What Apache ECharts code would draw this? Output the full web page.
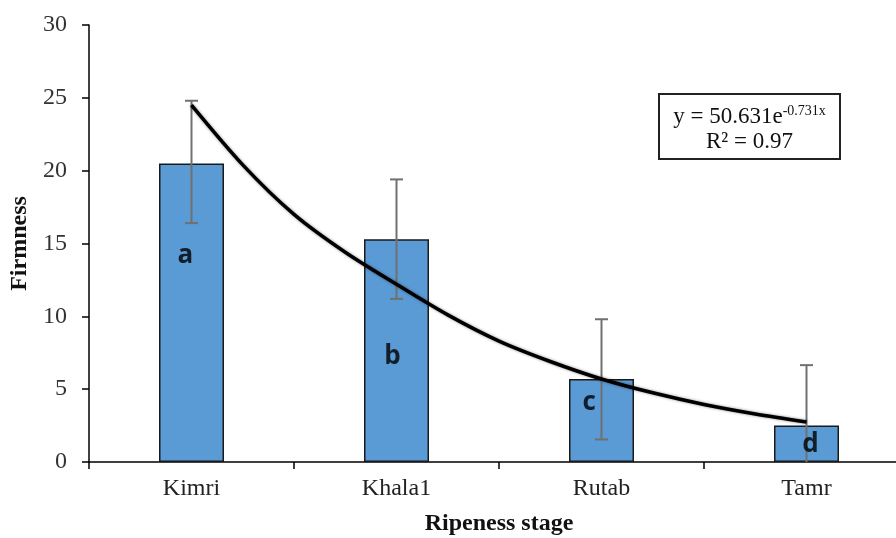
<!DOCTYPE html>
<html>
<head>
<meta charset="utf-8">
<script src="https://cdn.jsdelivr.net/npm/echarts@6/dist/echarts.min.js"></script>
<style>html,body{margin:0;padding:0;background:#fff}#c{width:896px;height:538px}</style>
</head>
<body>
<div id="c"></div>
<script>
// ---- data ----
const categories = ['Kimri', 'Khala1', 'Rutab', 'Tamr'];
const firmness = [20.5, 15.3, 5.7, 2.5];
const errLow = [16.4, 11.2, 1.55, -1.6];
const errHigh = [24.8, 19.4, 9.8, 6.65];
const yTicks = [0, 5, 10, 15, 20, 25, 30];
// trend curve points (x = stage number)
const trendX = [1, 1.25, 1.5, 1.75, 2, 2.25, 2.5, 2.75, 3, 3.25, 3.5, 3.75, 4];
const trendY = [24.5, 20.4, 17.0, 14.4, 12.2, 10.1, 8.3, 6.9, 5.7, 4.75, 3.95, 3.3, 2.75];
// significance letters (stage position, firmness position)
const letters = ['a', 'b', 'c', 'd'];
const letterX = [0.97, 1.98, 2.94, 4.02];
const letterY = [14.2, 7.25, 4.05, 1.2];
const equationText = ['y = 50.631e', '-0.731x', 'R² = 0.97'];

const chart = echarts.init(document.getElementById('c'), null, {renderer: 'canvas'});
const serif = '"Liberation Serif", "Times New Roman", serif';

chart.setOption({
  animation: false,
  backgroundColor: '#ffffff',
  grid: {left: 89, top: 25, width: 820, height: 437, containLabel: false, outerBoundsMode: 'none'},
  xAxis: [{
    type: 'category',
    data: categories,
    axisLine: {lineStyle: {color: '#000', width: 1.5}},
    axisTick: {show: true, length: 7, lineStyle: {color: '#000', width: 1.5}},
    axisLabel: {fontFamily: serif, fontSize: 24, color: '#222', margin: 15},
    name: 'Ripeness stage',
    nameLocation: 'middle',
    nameGap: 50,
    nameTextStyle: {fontFamily: serif, fontSize: 24, fontWeight: 'bold', color: '#111'}
  }, {
    type: 'value',
    min: 0.5,
    max: 4.5,
    show: false
  }],
  yAxis: {
    type: 'value',
    min: yTicks[0],
    max: yTicks[yTicks.length - 1],
    interval: yTicks[1] - yTicks[0],
    splitLine: {show: false},
    axisLine: {show: true, lineStyle: {color: '#000', width: 1.5}},
    axisTick: {show: true, length: 7, lineStyle: {color: '#000', width: 1.5}},
    axisLabel: {fontFamily: serif, fontSize: 24, color: '#333', margin: 22},
    name: 'Firmness',
    nameLocation: 'middle',
    nameGap: 48,
    nameTextStyle: {fontFamily: serif, fontSize: 24, fontWeight: 'bold', color: '#111'}
  },
  series: [{
    type: 'bar',
    xAxisIndex: 0,
    data: firmness,
    barWidth: 65,
    itemStyle: {color: '#5B9BD5', borderColor: '#1a1a1a', borderWidth: 1.5},
    z: 2
  }, {
    type: 'custom',
    xAxisIndex: 0,
    clip: true,
    data: categories.map((c, i) => [i, errLow[i], errHigh[i]]),
    renderItem: function (params, api) {
      const lo = api.coord([api.value(0), api.value(1)]);
      const hi = api.coord([api.value(0), api.value(2)]);
      const w = 6.5;
      const st = {stroke: '#707070', lineWidth: 2};
      return {
        type: 'group',
        children: [
          {type: 'line', shape: {x1: hi[0], y1: hi[1], x2: lo[0], y2: lo[1]}, style: st},
          {type: 'line', shape: {x1: hi[0] - w, y1: hi[1], x2: hi[0] + w, y2: hi[1]}, style: st},
          {type: 'line', shape: {x1: lo[0] - w, y1: lo[1], x2: lo[0] + w, y2: lo[1]}, style: st}
        ]
      };
    },
    z: 3
  }, {
    type: 'line',
    xAxisIndex: 1,
    data: trendX.map((x, i) => [x, trendY[i]]),
    smooth: 0.3,
    showSymbol: false,
    lineStyle: {color: '#000', width: 3.5, shadowBlur: 3, shadowColor: 'rgba(0,0,0,0.45)'},
    z: 4
  }, {
    type: 'scatter',
    xAxisIndex: 1,
    symbolSize: 0,
    data: letterX.map((x, i) => ({value: [x, letterY[i]], name: letters[i]})),
    label: {
      show: true,
      position: 'inside',
      formatter: p => p.name,
      fontFamily: '"Open Sans", "Liberation Sans", sans-serif',
      fontWeight: 'bold',
      fontSize: 26,
      color: '#000'
    },
    z: 5
  }],
  graphic: [{
    type: 'rect',
    shape: {x: 659, y: 94, width: 181, height: 65},
    style: {fill: '#fff', stroke: '#222', lineWidth: 2}
  }, {
    type: 'text',
    x: 749.5,
    y: 117,
    style: {
      text: '{a|' + equationText[0] + '}{s|' + equationText[1] + '}',
      align: 'center',
      verticalAlign: 'middle',
      rich: {
        a: {fontFamily: serif, fontSize: 23, fill: '#111'},
        s: {fontFamily: serif, fontSize: 14, fill: '#111', verticalAlign: 'top', padding: [0, 0, 12, 0]}
      }
    }
  }, {
    type: 'text',
    x: 749.5,
    y: 142,
    style: {
      text: equationText[2],
      align: 'center',
      verticalAlign: 'middle',
      fontFamily: serif,
      fontSize: 23,
      fill: '#111'
    }
  }]
});
</script>
</body>
</html>
